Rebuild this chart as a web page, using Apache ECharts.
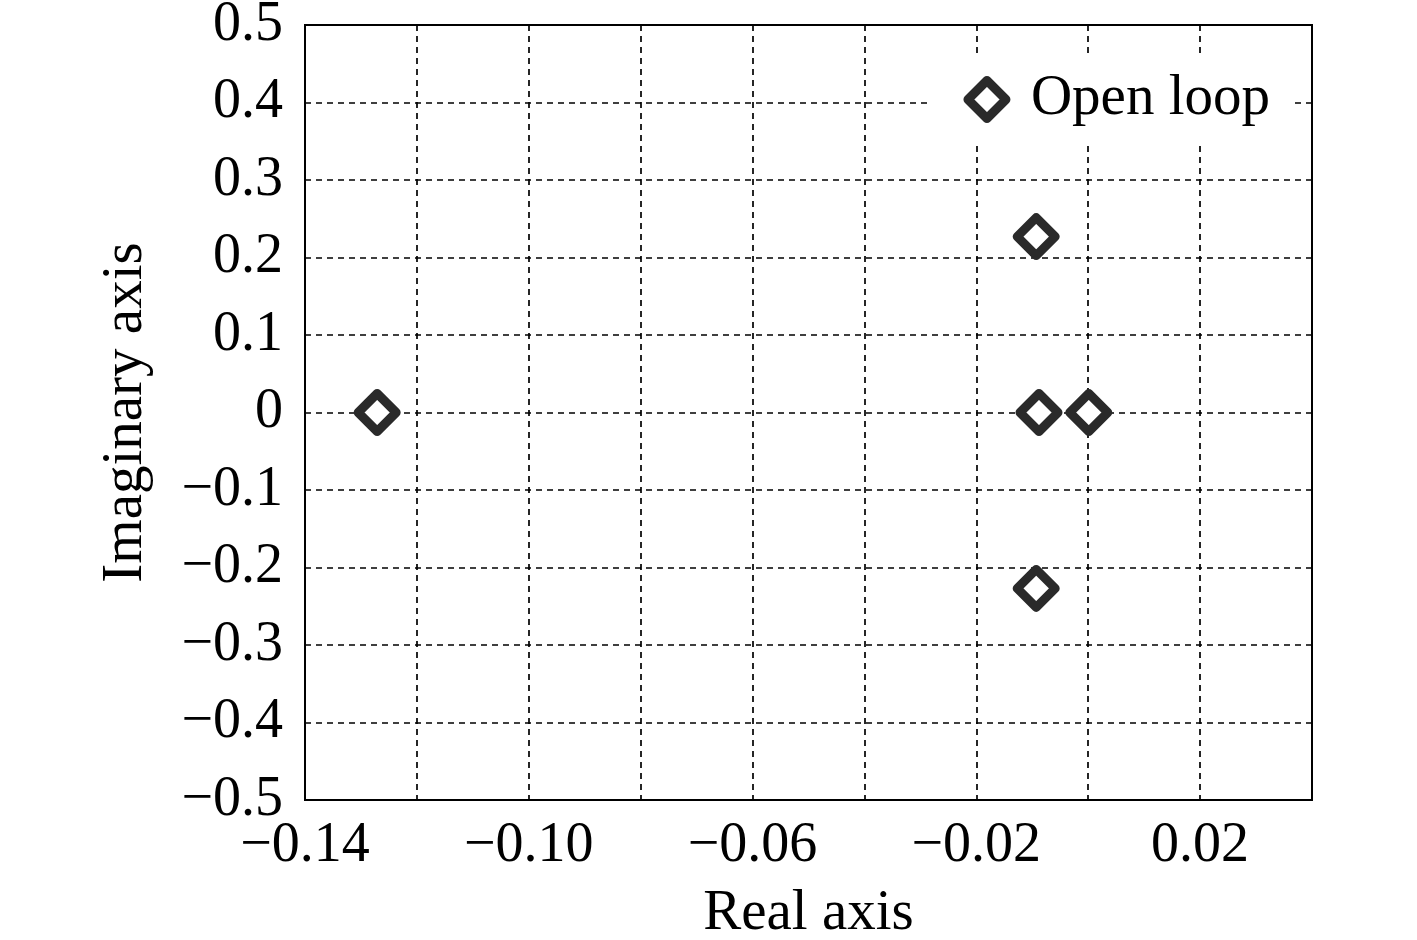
<!DOCTYPE html>
<html>
<head>
<meta charset="utf-8">
<script src="https://cdn.jsdelivr.net/npm/echarts@6/dist/echarts.min.js"></script>
<style>
  html, body { margin: 0; padding: 0; background: #fff; }
  #main { width: 1417px; height: 940px; }
</style>
</head>
<body>
<div id="main"></div>
<script>
// pole locations
var realParts = [-0.1271, -0.0093, -0.0093, -0.0088, 0.0001];
var imagParts = [0, 0.227, -0.227, 0, 0];
var seriesName = 'Open loop';

// tick labels that are printed (grid lines every 0.02 / 0.1)
var xTickValues = [-0.14, -0.10, -0.06, -0.02, 0.02];
var xTickLabels = ['\u22120.14', '\u22120.10', '\u22120.06', '\u22120.02', '0.02'];
var yTickValues = [0.5, 0.4, 0.3, 0.2, 0.1, 0, -0.1, -0.2, -0.3, -0.4, -0.5];
var yTickLabels = ['0.5', '0.4', '0.3', '0.2', '0.1', '0', '\u22120.1', '\u22120.2', '\u22120.3', '\u22120.4', '\u22120.5'];

var points = realParts.map(function (x, i) { return [x, imagParts[i]]; });

function pick(values, labels, v) {
    for (var i = 0; i < values.length; i++) {
        if (Math.abs(values[i] - v) < 1e-6) return labels[i];
    }
    return '';
}

var serif = "'Liberation Serif', 'Times New Roman', serif";
var gridLine = { show: true, lineStyle: { color: '#000', width: 1.7, type: [6, 5] } };
var markerStyle = { color: '#fff', borderColor: '#2a2a2a', borderWidth: 9, borderJoin: 'round', opacity: 1 };

var chart = echarts.init(document.getElementById('main'));
chart.setOption({
    animation: false,
    textStyle: { fontFamily: serif, color: '#000' },
    grid: {
        left: 305, right: 105, top: 25, bottom: 140,
        outerBoundsMode: 'none',
        show: true, borderColor: '#000', borderWidth: 2, backgroundColor: 'transparent'
    },
    legend: {
        data: [seriesName],
        right: 127, top: 57,
        backgroundColor: '#fff',
        padding: [14, 20, 14, 36],
        itemWidth: 38, itemHeight: 38,
        itemStyle: markerStyle,
        textStyle: { fontFamily: serif, fontSize: 57, color: '#000', padding: [0, 0, 0, 20] }
    },
    xAxis: {
        type: 'value',
        min: -0.14, max: 0.04, interval: 0.02,
        name: 'Real axis', nameLocation: 'middle', nameGap: 86,
        nameTextStyle: { fontFamily: serif, fontSize: 57, color: '#000' },
        axisLine: { show: true, onZero: false, lineStyle: { color: '#000', width: 2 } },
        axisTick: { show: false },
        axisLabel: {
            fontFamily: serif, fontSize: 56, color: '#000', margin: 18,
            formatter: function (v) { return pick(xTickValues, xTickLabels, v); }
        },
        splitLine: gridLine
    },
    yAxis: {
        type: 'value',
        min: -0.5, max: 0.5, interval: 0.1,
        name: 'Imaginary axis', nameLocation: 'middle', nameGap: 150,
        nameTextStyle: { fontFamily: serif, fontSize: 57, color: '#000' },
        axisLine: { show: true, onZero: false, lineStyle: { color: '#000', width: 2 } },
        axisTick: { show: false },
        axisLabel: {
            fontFamily: serif, fontSize: 56, color: '#000', margin: 22,
            formatter: function (v) { return pick(yTickValues, yTickLabels, v); }
        },
        splitLine: gridLine
    },
    series: [{
        name: seriesName,
        type: 'scatter',
        symbol: 'diamond',
        symbolSize: 38,
        itemStyle: markerStyle,
        data: points
    }]
});
</script>
</body>
</html>
